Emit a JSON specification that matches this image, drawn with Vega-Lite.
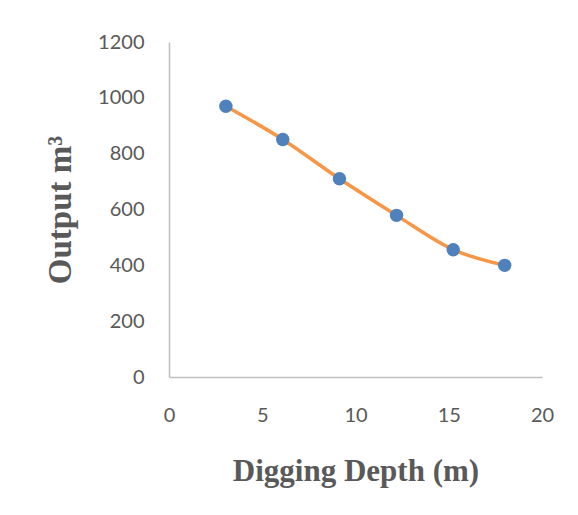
{
  "$schema": "https://vega.github.io/schema/vega-lite/v6.json",
  "autosize": "none",
  "width": 373,
  "height": 335,
  "padding": {"left": 169, "top": 42, "right": 36, "bottom": 138},
  "background": "white",
  "config": {"view": {"stroke": null}},
  "data": {"values": [
    {"depth": 3.05, "output": 970},
    {"depth": 6.1, "output": 851},
    {"depth": 9.14, "output": 710},
    {"depth": 12.2, "output": 579},
    {"depth": 15.24, "output": 456},
    {"depth": 18.0, "output": 400}
  ]},
  "encoding": {
    "x": {"field": "depth", "type": "quantitative",
      "scale": {"domain": [0, 20], "nice": false, "zero": false},
      "axis": {"values": [0, 5, 10, 15, 20], "grid": false, "ticks": false, "labelFlush": false,
        "domainColor": "#bfbfbf", "domainWidth": 1.5, "format": "d",
        "labelFont": "Lato", "labelFontSize": 20, "labelColor": "#595959", "labelPadding": 28,
        "title": "Digging Depth (m)", "titleFont": "Liberation Serif", "titleFontSize": 31,
        "titleFontWeight": "bold", "titleColor": "#595959", "titlePadding": 31}},
    "y": {"field": "output", "type": "quantitative",
      "scale": {"domain": [0, 1200], "nice": false},
      "axis": {"values": [0, 200, 400, 600, 800, 1000, 1200], "grid": false, "ticks": false, "labelFlush": false,
        "domainColor": "#bfbfbf", "domainWidth": 1.5, "format": "d",
        "labelFont": "Lato", "labelFontSize": 20, "labelColor": "#595959", "labelPadding": 25,
        "title": "Output m³", "titleFont": "Liberation Serif", "titleFontSize": 33,
        "titleFontWeight": "bold", "titleColor": "#595959", "titlePadding": 20}}
  },
  "layer": [
    {"mark": {"type": "line", "interpolate": "monotone", "color": "#F79646", "strokeWidth": 3.5}},
    {"mark": {"type": "point", "filled": true, "opacity": 1, "color": "#4F81BD", "size": 180}}
  ]
}
